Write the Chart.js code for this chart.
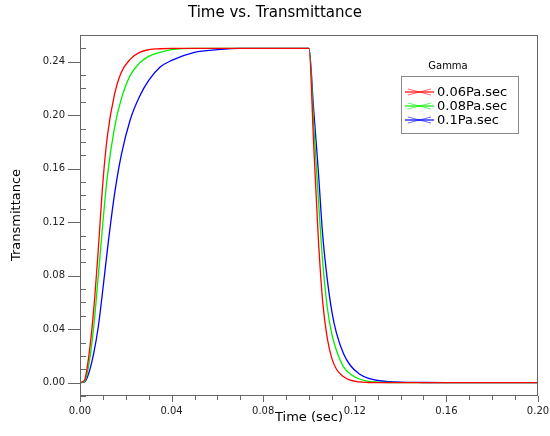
<!DOCTYPE html>
<html><head><meta charset="utf-8">
<script src="https://cdn.jsdelivr.net/npm/chart.js@4/dist/chart.umd.min.js"></script>
<style>html,body{margin:0;padding:0;background:#fff}#w{width:550px;height:436px}</style>
</head><body><div id="w"><canvas id="c"></canvas></div>
<script>
const times=[0,0.002,0.004,0.006,0.008,0.010,0.012,0.015,0.018,0.022,0.026,0.03,0.035,0.04,0.05,0.06,0.07,0.08,0.09,0.1,0.102,0.104,0.106,0.108,0.11,0.112,0.115,0.118,0.122,0.126,0.13,0.135,0.14,0.15,0.16,0.18,0.2];
const red=[0,0.002,0.022,0.055,0.1,0.15,0.185,0.215,0.232,0.242,0.247,0.249,0.2497,0.25,0.25,0.25,0.25,0.25,0.25,0.25,0.18,0.11,0.06,0.033,0.018,0.01,0.0045,0.0018,0.0005,0.0001,0,0,0,0,0,0,0];
const green=[0,0.001,0.015,0.042,0.08,0.12,0.155,0.19,0.212,0.23,0.239,0.244,0.247,0.249,0.25,0.25,0.25,0.25,0.25,0.25,0.195,0.14,0.09,0.056,0.036,0.024,0.012,0.0065,0.0027,0.001,0.0004,0.0001,0,0,0,0,0];
const blue=[0,0.0005,0.008,0.022,0.042,0.07,0.1,0.14,0.17,0.197,0.214,0.226,0.236,0.241,0.247,0.249,0.25,0.25,0.25,0.25,0.205,0.16,0.11,0.077,0.053,0.037,0.022,0.013,0.0065,0.0032,0.0016,0.0007,0.0003,0.0001,0,0,0];
const names=['0.06Pa.sec','0.08Pa.sec','0.1Pa.sec'];
const colors=['#ff0000','#00ee00','#0000ff'];
const series=[red,green,blue];
const xTicks=[0,0.04,0.08,0.12,0.16,0.2];
const yTicks=[0,0.04,0.08,0.12,0.16,0.2,0.24];
const F='"DejaVu Sans", sans-serif';
const deco={id:'deco',afterDraw(ch){
 const c=ch.ctx,a=ch.chartArea,xs=ch.scales.x,ys=ch.scales.y;
 c.save();c.strokeStyle='#666';c.lineWidth=1;
 c.strokeRect(a.left+0.5,a.top+0.5,a.right-a.left-1,a.bottom-a.top-1);
 c.beginPath();
 for(let i=0;i<=20;i++){const v=i*0.01,x=Math.round(xs.getPixelForValue(v))+0.5;const maj=i%4===0;c.moveTo(x,a.bottom);c.lineTo(x,a.bottom+(maj?6:4));}
 for(let i=-1;i<=26;i++){const v=i*0.01,y=Math.round(ys.getPixelForValue(v))+0.5;if(i%4===0){c.moveTo(a.left-12,y);c.lineTo(a.left,y);}else{c.moveTo(a.left,y);c.lineTo(a.left+6,y);}}
 c.stroke();
 c.fillStyle='#000';c.textAlign='center';c.textBaseline='middle';
 c.font='15px '+F;c.fillText('Time vs. Transmittance',275,13);
 c.font='13px '+F;c.fillText('Time (sec)',309,418);
 c.save();c.translate(17,215);c.rotate(-Math.PI/2);c.fillText('Transmittance',0,0);c.restore();
 c.font='10px '+F;c.fillText('Gamma',448,66);
 c.strokeStyle='#888';c.strokeRect(401.5,76.5,117,57);
 c.textAlign='left';c.font='13px '+F;
 for(let i=0;i<3;i++){const y=92+i*14;c.strokeStyle=colors[i];c.lineWidth=1.2;c.beginPath();c.moveTo(405,y);c.lineTo(434,y);c.stroke();
  c.lineWidth=0.6;c.beginPath();c.moveTo(408,y-3);c.lineTo(431,y+3);c.moveTo(408,y+3);c.lineTo(431,y-3);c.stroke();
  c.fillStyle='#000';c.fillText(names[i],437,y+1);}
 c.restore();}};
new Chart(document.getElementById('c'),{type:'line',
 data:{datasets:series.map((s,i)=>({label:names[i],data:times.map((t,j)=>({x:t,y:s[j]})),borderColor:colors[i],borderWidth:1.3,pointRadius:0,cubicInterpolationMode:'monotone',fill:false}))},
 options:{responsive:true,maintainAspectRatio:false,animation:false,
  layout:{padding:{top:35,right:12,left:0,bottom:0}},
  plugins:{legend:{display:false},title:{display:false},tooltip:{enabled:false}},
  scales:{
   x:{type:'linear',min:0,max:0.2,afterFit(s){s.height=40;s.paddingRight=0;s.paddingLeft=0;},afterBuildTicks(s){s.ticks=xTicks.map(v=>({value:v}));},
    grid:{display:false,drawTicks:false},border:{display:false},
    ticks:{padding:9,font:{family:F,size:10},color:'#222',callback:v=>v.toFixed(2),maxRotation:0,align:'center'}},
   y:{type:'linear',min:-0.01,max:0.26,afterFit(s){s.width=80;},afterBuildTicks(s){s.ticks=yTicks.map(v=>({value:v}));},
    grid:{display:false,drawTicks:false},border:{display:false},
    ticks:{padding:15,font:{family:F,size:10},color:'#222',callback:v=>v.toFixed(2)}}
  }},plugins:[deco]});
</script></body></html>
